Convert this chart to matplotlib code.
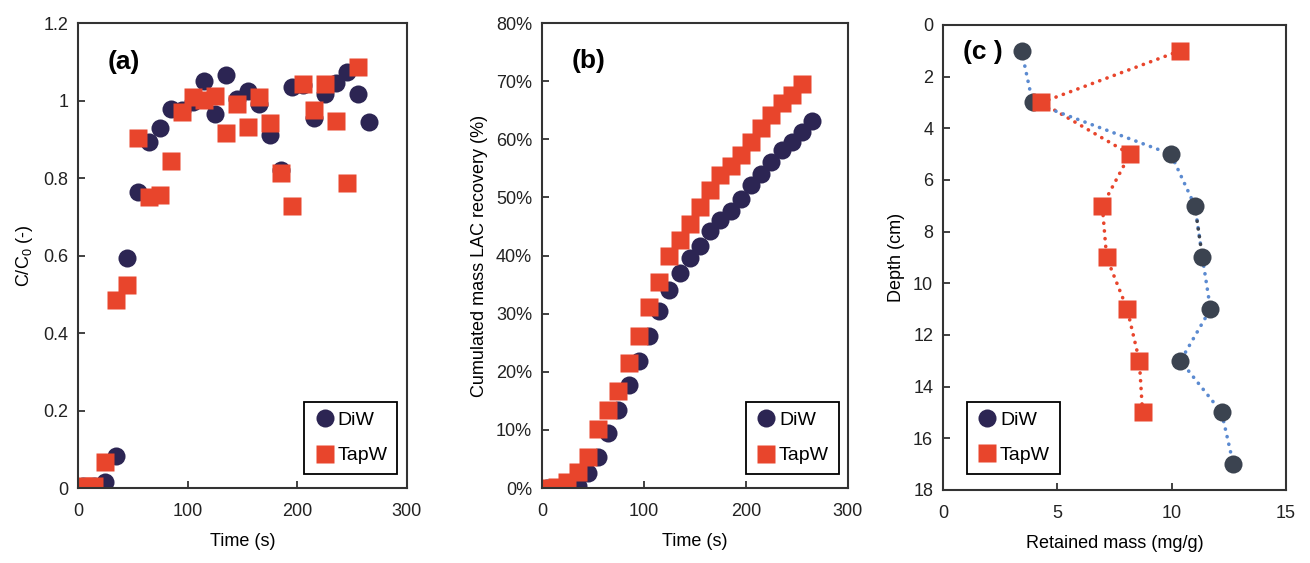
import matplotlib
matplotlib.use("Agg")
import matplotlib.pyplot as plt
from matplotlib.lines import Line2D
from matplotlib.ticker import FuncFormatter, MultipleLocator

plt.rcParams["font.family"] = ["Liberation Sans", "DejaVu Sans"]
plt.rcParams["mathtext.fontset"] = "custom"
plt.rcParams["mathtext.rm"] = "Liberation Sans"

NAVY = "#2c2553"
RED = "#e8452c"
SLATE = "#3b4350"
BLUE_DOT = "#5b8ad0"

# (a) breakthrough curves
time_diw = [5, 15, 25, 35, 45, 55, 65, 75, 85, 95, 105, 115, 125, 135, 145, 155, 165,
            175, 185, 195, 205, 215, 225, 235, 245, 255, 265]
cc0_diw = [0.005, 0.005, 0.015, 0.083, 0.594, 0.763, 0.894, 0.930, 0.977, 0.975, 0.995,
           1.050, 0.965, 1.066, 1.003, 1.025, 0.991, 0.911, 0.821, 1.034, 1.040, 0.954,
           1.018, 1.044, 1.074, 1.016, 0.945]
time_tap = [5, 15, 25, 35, 45, 55, 65, 75, 85, 95, 105, 115, 125, 135, 145, 155, 165,
            175, 185, 195, 205, 215, 225, 235, 245, 255]
cc0_tap = [0.004, 0.004, 0.068, 0.485, 0.524, 0.904, 0.752, 0.756, 0.845, 0.971, 1.010,
           1.001, 1.012, 0.915, 0.991, 0.932, 1.010, 0.941, 0.812, 0.728, 1.042, 0.975,
           1.042, 0.948, 0.788, 1.087]

# (b) cumulated mass recovery (%)
recov_diw = [0, 0, 0.1, 0.4, 2.5, 5.3, 9.4, 13.5, 17.8, 21.9, 26.2, 30.5, 34.1, 37.0,
             39.5, 41.6, 44.2, 46.1, 47.7, 49.8, 52.1, 54.0, 56.1, 58.2, 59.6, 61.3, 63.2]
recov_tap = [0, 0.2, 1.1, 2.8, 5.3, 10.1, 13.4, 16.7, 21.5, 26.2, 31.1, 35.4, 39.9, 42.6,
             45.5, 48.4, 51.3, 53.8, 55.4, 57.3, 59.6, 61.9, 64.2, 66.2, 67.6, 69.5]

# (c) retained mass profiles
depth_diw = [1, 3, 5, 7, 9, 11, 13, 15, 17]
mass_diw = [3.44, 3.92, 9.97, 11.02, 11.35, 11.70, 10.39, 12.19, 12.70]
depth_tap = [1, 3, 5, 7, 9, 11, 13, 15]
mass_tap = [10.36, 4.31, 8.18, 6.97, 7.16, 8.06, 8.59, 8.73]

fig = plt.figure(figsize=(13.1, 5.63), dpi=100)
ax_a = fig.add_axes([0.0595, 0.1332, 0.2511, 0.8259])
ax_b = fig.add_axes([0.4137, 0.1332, 0.2336, 0.8259])
ax_c = fig.add_axes([0.7198, 0.1297, 0.2618, 0.8259])

MS = 13
FS = 13


def style(ax):
    for s in ax.spines.values():
        s.set_color("#333333")
        s.set_linewidth(1.5)
    ax.tick_params(direction="in", length=5, width=1.3, color="#333333", labelsize=FS,
                   labelcolor="#222222")
    ax.tick_params(axis="x", pad=11)
    ax.tick_params(axis="y", pad=7)


def legend(ax, handles=None, **kw):
    leg = ax.legend(handles=handles, fontsize=14, frameon=True, fancybox=False,
                    edgecolor="black", framealpha=1, borderpad=0.5, handletextpad=0.1,
                    labelspacing=0.9, handlelength=1.1, borderaxespad=0, **kw)
    leg.get_frame().set_linewidth(1.3)
    return leg


# (a)
ax_a.plot(time_diw, cc0_diw, "o", color=NAVY, ms=MS, mec="none", label="DiW")
ax_a.plot(time_tap, cc0_tap, "s", color=RED, ms=MS, mec="none", label="TapW")
ax_a.set_xlim(0, 300)
ax_a.set_ylim(0, 1.2)
ax_a.xaxis.set_major_locator(MultipleLocator(100))
ax_a.yaxis.set_major_locator(MultipleLocator(0.2))
ax_a.yaxis.set_major_formatter(FuncFormatter(lambda v, p: f"{v:g}"))
ax_a.set_xlabel("Time (s)", fontsize=FS, labelpad=9)
ax_a.set_ylabel("C/C$\\mathregular{_0}$ (-)", fontsize=FS, labelpad=6)
ax_a.text(0.091, 0.916, "(a)", transform=ax_a.transAxes, fontsize=19,
          fontweight="bold", va="center")
style(ax_a)
legend(ax_a, loc="lower right", bbox_to_anchor=(0.97, 0.03))

# (b)
ax_b.plot(time_diw, recov_diw, "o", color=NAVY, ms=MS, mec="none", label="DiW")
ax_b.plot(time_tap, recov_tap, "s", color=RED, ms=MS, mec="none", label="TapW")
ax_b.set_xlim(0, 300)
ax_b.set_ylim(0, 80)
ax_b.xaxis.set_major_locator(MultipleLocator(100))
ax_b.yaxis.set_major_locator(MultipleLocator(10))
ax_b.yaxis.set_major_formatter(FuncFormatter(lambda v, p: f"{v:.0f}%"))
ax_b.set_xlabel("Time (s)", fontsize=FS, labelpad=9)
ax_b.set_ylabel("Cumulated mass LAC recovery (%)", fontsize=FS, labelpad=6)
ax_b.text(0.098, 0.918, "(b)", transform=ax_b.transAxes, fontsize=19,
          fontweight="bold", va="center")
style(ax_b)
legend(ax_b, loc="lower right", bbox_to_anchor=(0.97, 0.03))

# (c)
dot = dict(lw=2.6, linestyle=(0, (0.05, 2.1)), dash_capstyle="round")
ax_c.plot(mass_tap, depth_tap, color=RED, **dot)
ax_c.plot(mass_diw, depth_diw, color=BLUE_DOT, **dot)
ax_c.plot(mass_diw[3:5], depth_diw[3:5], color=SLATE, **dot)
ax_c.plot(mass_diw, depth_diw, "o", color=SLATE, ms=MS, mec="none")
ax_c.plot(mass_tap, depth_tap, "s", color=RED, ms=MS, mec="none")
ax_c.set_xlim(0, 15)
ax_c.set_ylim(18, 0)
ax_c.xaxis.set_major_locator(MultipleLocator(5))
ax_c.yaxis.set_major_locator(MultipleLocator(2))
ax_c.set_xlabel("Retained mass (mg/g)", fontsize=FS, labelpad=9)
ax_c.set_ylabel("Depth (cm)", fontsize=FS, labelpad=6)
ax_c.text(0.058, 0.942, "(c )", transform=ax_c.transAxes, fontsize=19,
          fontweight="bold", va="center")
style(ax_c)
handles = [Line2D([], [], ls="none", marker="o", color=NAVY, ms=MS, mec="none", label="DiW"),
           Line2D([], [], ls="none", marker="s", color=RED, ms=MS, mec="none", label="TapW")]
legend(ax_c, handles=handles, loc="lower left", bbox_to_anchor=(0.07, 0.035))

fig.savefig("out.png", dpi=100, facecolor="white")
